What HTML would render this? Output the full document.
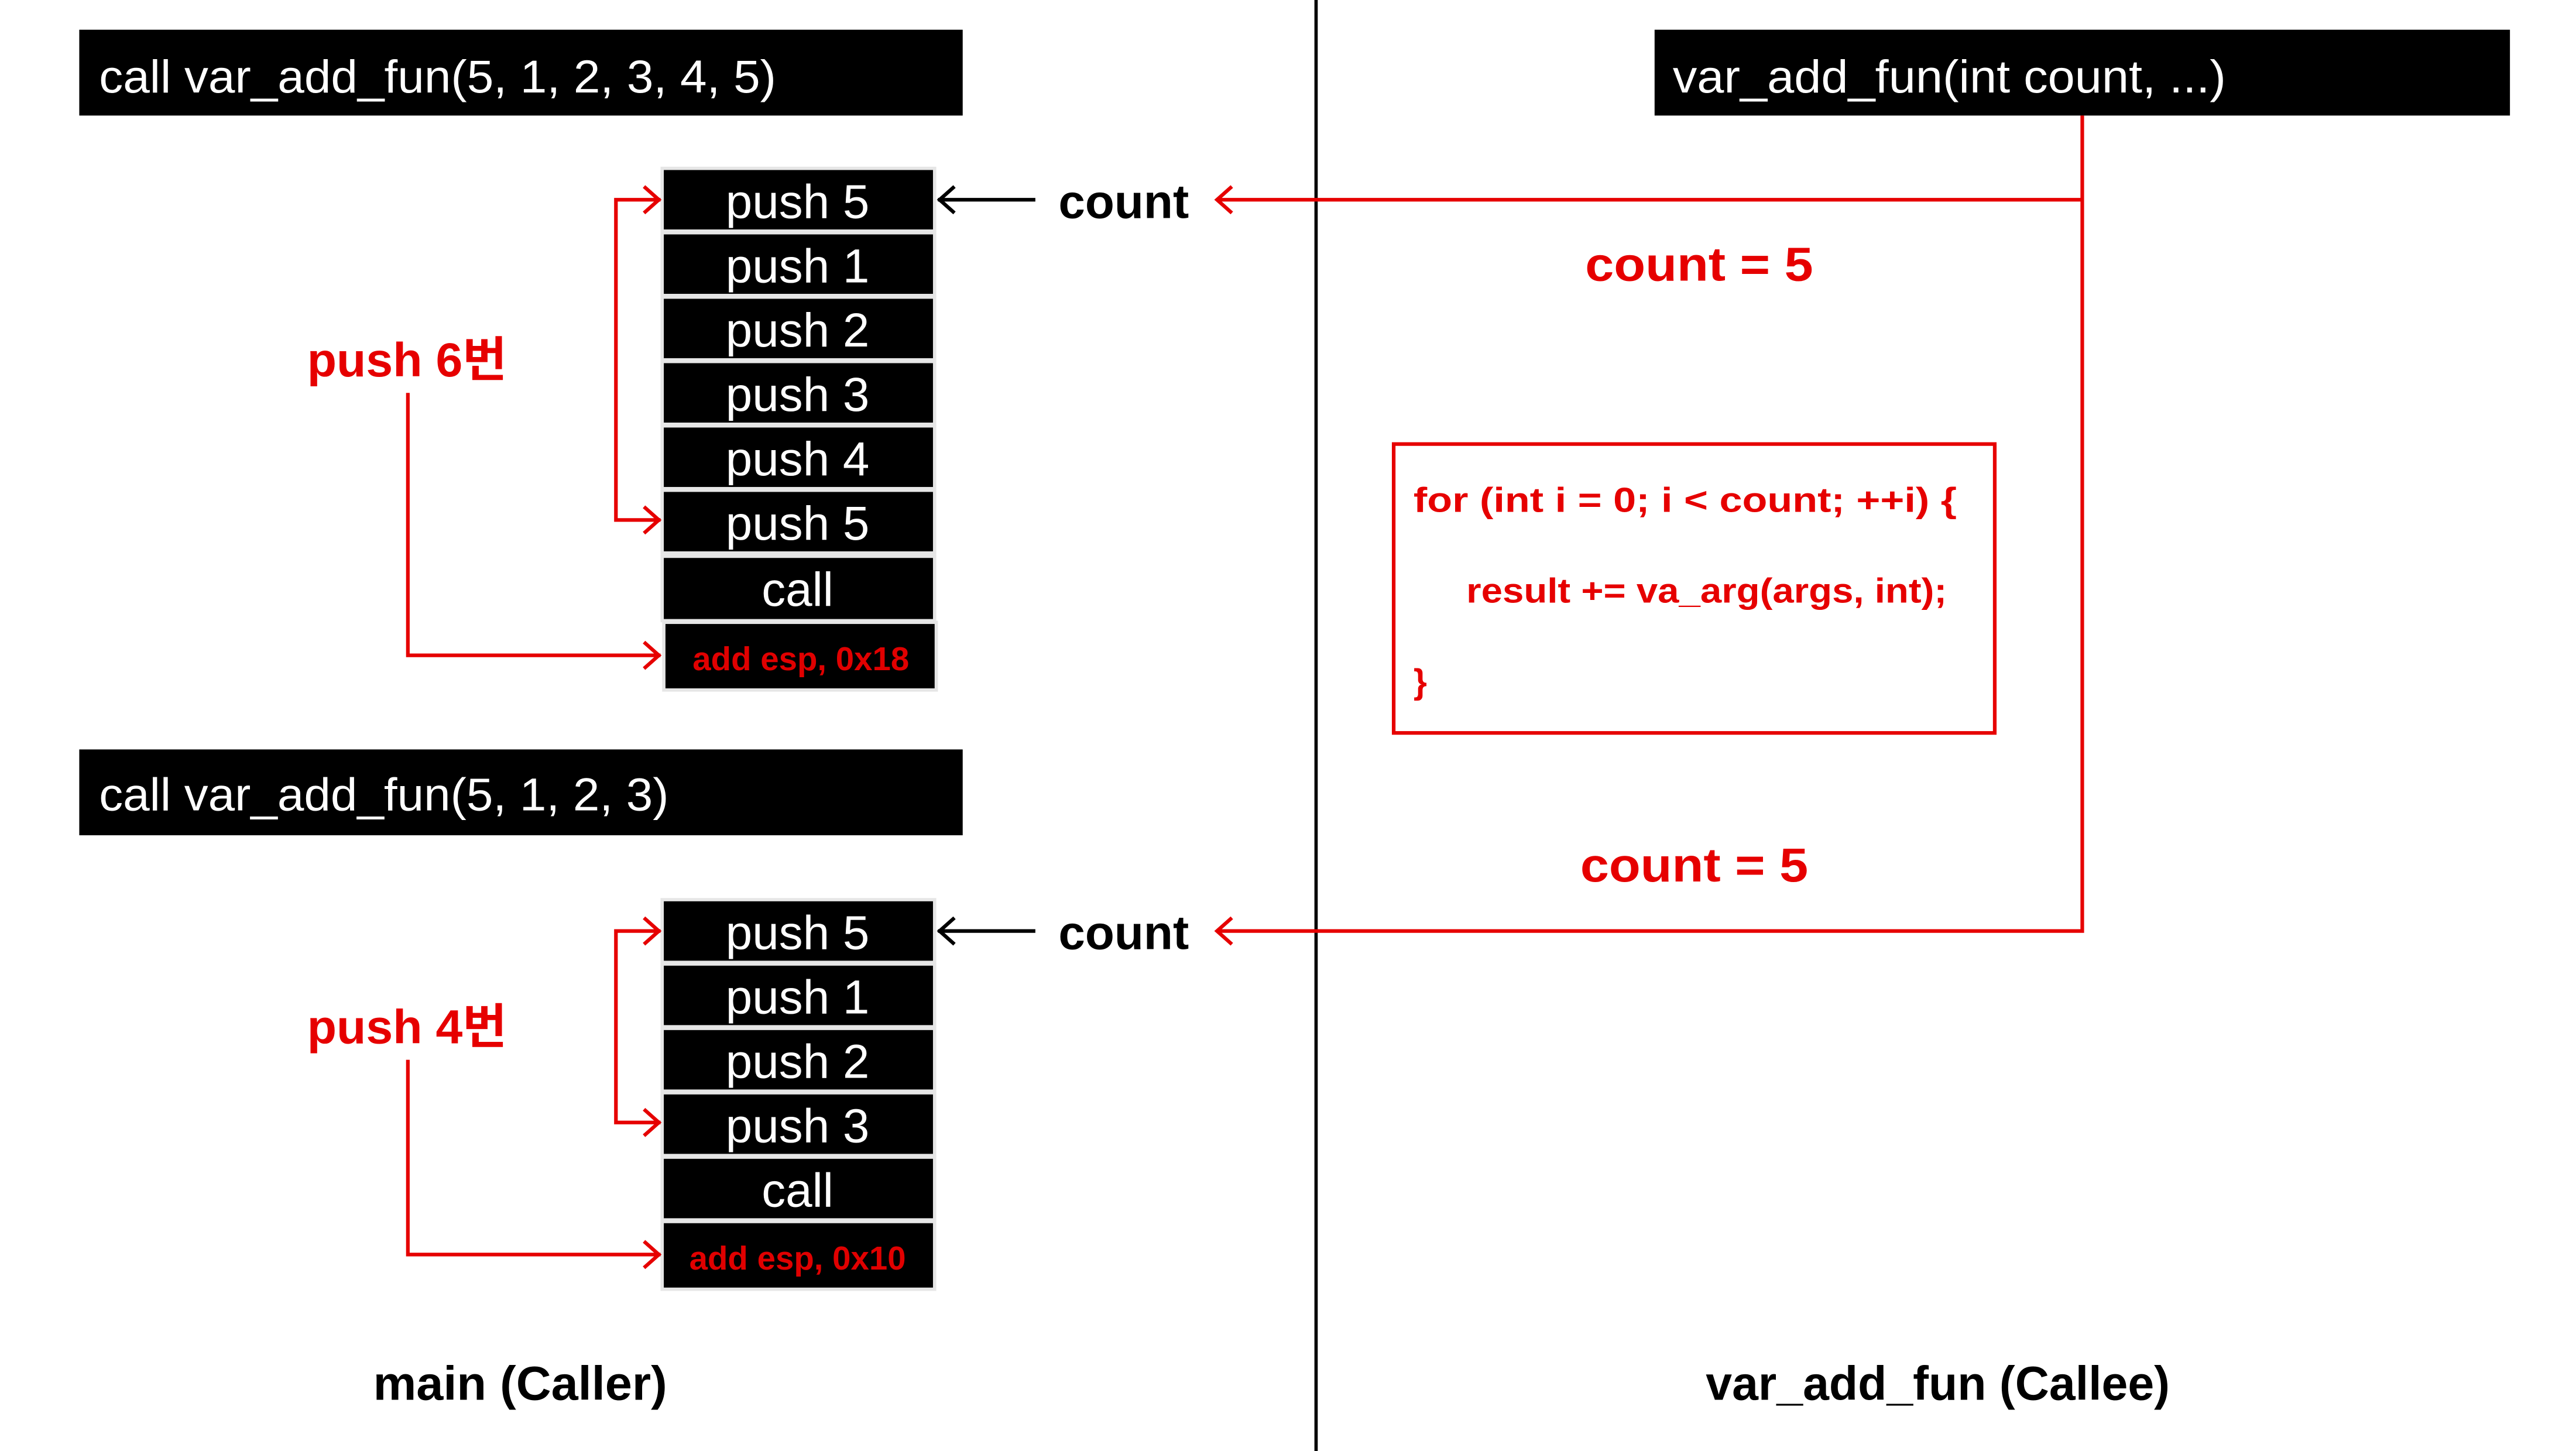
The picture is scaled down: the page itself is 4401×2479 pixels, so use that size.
<!DOCTYPE html>
<html><head><meta charset="utf-8"><style>
html,body{margin:0;padding:0;background:#fff;}
svg{display:block;}
text{font-family:"Liberation Sans","Noto Sans CJK KR",sans-serif;}
</style></head><body>
<svg width="4401" height="2479" viewBox="0 0 1560 879" preserveAspectRatio="none" xmlns="http://www.w3.org/2000/svg">
<rect width="1560" height="879" fill="#fff"/>
<!-- divider -->
<line x1="797" y1="0" x2="797" y2="879" stroke="#000" stroke-width="2"/>

<!-- headers -->
<rect x="48" y="18" width="535" height="52" fill="#000"/>
<text x="60" y="56" font-size="28" fill="#fff" textLength="410" lengthAdjust="spacingAndGlyphs">call var_add_fun(5, 1, 2, 3, 4, 5)</text>
<rect x="1002" y="18" width="518" height="52" fill="#000"/>
<text x="1013" y="56" font-size="28" fill="#fff" textLength="335" lengthAdjust="spacingAndGlyphs">var_add_fun(int count, ...)</text>
<rect x="48" y="454" width="535" height="52" fill="#000"/>
<text x="60" y="491" font-size="28" fill="#fff" textLength="345" lengthAdjust="spacingAndGlyphs">call var_add_fun(5, 1, 2, 3)</text>

<!-- stack 1 -->
<g fill="#000" stroke="#e6e6e6" stroke-width="2">
<rect x="401" y="102" width="165" height="38"/>
<rect x="401" y="141" width="165" height="38"/>
<rect x="401" y="180" width="165" height="38"/>
<rect x="401" y="219" width="165" height="38"/>
<rect x="401" y="258" width="165" height="38"/>
<rect x="401" y="297" width="165" height="38"/>
<rect x="401" y="337" width="165" height="39"/>
<rect x="402" y="377" width="165" height="41"/>
</g>
<g fill="#fff" font-size="29" text-anchor="middle">
<text x="483" y="132">push 5</text>
<text x="483" y="171">push 1</text>
<text x="483" y="210">push 2</text>
<text x="483" y="249">push 3</text>
<text x="483" y="288">push 4</text>
<text x="483" y="327">push 5</text>
<text x="483" y="367">call</text>
</g>
<text x="485" y="406" font-size="20" font-weight="bold" fill="#e00000" text-anchor="middle">add esp, 0x18</text>

<!-- stack 2 -->
<g fill="#000" stroke="#e6e6e6" stroke-width="2">
<rect x="401" y="545" width="165" height="38"/>
<rect x="401" y="584" width="165" height="38"/>
<rect x="401" y="623" width="165" height="38"/>
<rect x="401" y="662" width="165" height="38"/>
<rect x="401" y="701" width="165" height="38"/>
<rect x="401" y="740" width="165" height="41"/>
</g>
<g fill="#fff" font-size="29" text-anchor="middle">
<text x="483" y="575">push 5</text>
<text x="483" y="614">push 1</text>
<text x="483" y="653">push 2</text>
<text x="483" y="692">push 3</text>
<text x="483" y="731">call</text>
</g>
<text x="483" y="769" font-size="20" font-weight="bold" fill="#e00000" text-anchor="middle">add esp, 0x10</text>

<!-- black count arrows -->
<g stroke="#000" stroke-width="2.2" fill="none">
<line x1="568" y1="121" x2="627" y2="121"/><polyline points="578,113 569,121 578,129"/>
<line x1="568" y1="564" x2="627" y2="564"/><polyline points="578,556 569,564 578,572"/>
</g>
<g font-size="29" font-weight="bold" fill="#000">
<text x="641" y="132" textLength="79" lengthAdjust="spacingAndGlyphs">count</text>
<text x="641" y="575" textLength="79" lengthAdjust="spacingAndGlyphs">count</text>
<text x="226" y="848" textLength="178" lengthAdjust="spacingAndGlyphs">main (Caller)</text>
<text x="1033" y="848" textLength="281" lengthAdjust="spacingAndGlyphs">var_add_fun (Callee)</text>
</g>

<!-- red connectors -->
<g stroke="#e60000" stroke-width="2.2" fill="none">
<polyline points="1261,70 1261,564 737,564"/>
<line x1="737" y1="121" x2="1261" y2="121"/>
<polyline points="746,113 737,121 746,129"/>
<polyline points="746,556 737,564 746,572"/>
<!-- brackets -->
<polyline points="400,121 373,121 373,315 400,315"/>
<polyline points="390,113 399,121 390,129"/><polyline points="390,307 399,315 390,323"/>
<polyline points="400,564 373,564 373,680 400,680"/>
<polyline points="390,556 399,564 390,572"/><polyline points="390,672 399,680 390,688"/>
<polyline points="247,238 247,397 400,397"/><polyline points="390,389 399,397 390,405"/>
<polyline points="247,642 247,760 400,760"/><polyline points="390,752 399,760 390,768"/>
<rect x="844" y="269" width="364" height="175"/>
</g>
<g fill="#e60000" font-weight="bold">
<text x="186" y="228" font-size="29" textLength="121" lengthAdjust="spacingAndGlyphs">push 6번</text>
<text x="186" y="632" font-size="29" textLength="121" lengthAdjust="spacingAndGlyphs">push 4번</text>
<text x="960" y="170" font-size="29" textLength="138" lengthAdjust="spacingAndGlyphs">count = 5</text>
<text x="957" y="534" font-size="29" textLength="138" lengthAdjust="spacingAndGlyphs">count = 5</text>
<text x="856" y="310" font-size="21" textLength="329" lengthAdjust="spacingAndGlyphs">for (int i = 0; i &lt; count; ++i) {</text>
<text x="888" y="365" font-size="21" textLength="291" lengthAdjust="spacingAndGlyphs">result += va_arg(args, int);</text>
<text x="856" y="420" font-size="21">}</text>
</g>
</svg>
</body></html>
